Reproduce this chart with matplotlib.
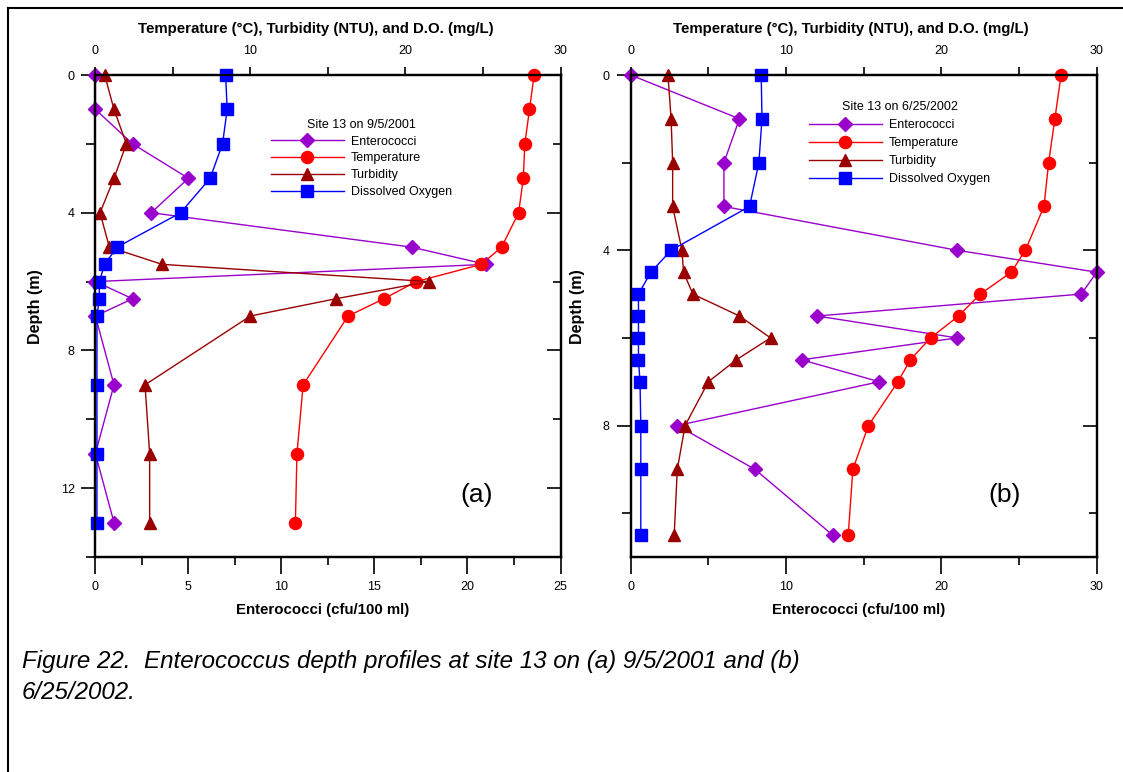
import matplotlib
matplotlib.use('Agg')
import matplotlib.pyplot as plt
from matplotlib.ticker import MultipleLocator
from matplotlib.lines import Line2D

plt.rcParams['font.family'] = ['Liberation Sans', 'DejaVu Sans']

# ---------------- data: panel (a) site 13 on 9/5/2001 ----------------
depth_a = [0, 1, 2, 3, 4, 5, 5.5, 6, 6.5, 7, 9, 11, 13]
entero_a = [0, 0, 2, 5, 3, 17, 21, 0, 2, 0, 1, 0, 1]
temp_a = [28.3, 28.0, 27.7, 27.6, 27.3, 26.2, 24.9, 20.7, 18.6, 16.3, 13.4, 13.0, 12.9]
turb_a = [0.6, 1.2, 2.0, 1.2, 0.3, 0.9, 4.3, 21.5, 15.5, 10.0, 3.2, 3.5, 3.5]
do_a = [8.4, 8.5, 8.2, 7.4, 5.5, 1.4, 0.6, 0.25, 0.25, 0.1, 0.1, 0.1, 0.1]

# ---------------- data: panel (b) site 13 on 6/25/2002 ----------------
depth_b = [0, 1, 2, 3, 4, 4.5, 5, 5.5, 6, 6.5, 7, 8, 9, 10.5]
entero_b = [0, 7, 6, 6, 21, 30, 29, 12, 21, 11, 16, 3, 8, 13]
temp_b = [27.7, 27.3, 26.9, 26.6, 25.4, 24.5, 22.5, 21.1, 19.3, 18.0, 17.2, 15.3, 14.3, 14.0]
turb_b = [2.4, 2.6, 2.7, 2.7, 3.3, 3.4, 4.0, 7.0, 9.0, 6.8, 5.0, 3.5, 3.0, 2.8]
do_b = [8.4, 8.45, 8.25, 7.65, 2.6, 1.3, 0.5, 0.5, 0.5, 0.5, 0.6, 0.65, 0.65, 0.65]

series_labels = ['Enterococci', 'Temperature', 'Turbidity', 'Dissolved Oxygen']
top_label = 'Temperature (\u00b0C), Turbidity (NTU), and D.O. (mg/L)'
bottom_label = 'Enterococci (cfu/100 ml)'
caption = ('Figure 22.  Enterococcus depth profiles at site 13 on (a) 9/5/2001 and (b)\n'
           '6/25/2002.')

C_ENT = '#9900CC'
C_TEMP = '#FF0000'
C_TURB = '#990000'
C_DO = '#0000FF'

W, H = 1123, 772
fig = plt.figure(figsize=(W / 100, H / 100), dpi=100)


def px_rect(x0, x1, ytop, ybot):
    return [x0 / W, 1 - ybot / H, (x1 - x0) / W, (ybot - ytop) / H]


def panel(rect, depth, ent, temp, turb, do, ent_max, ent_major, ymax,
          title, tag, tag_xy, leg_anchor, ylab_x, leg_spacing):
    ax = fig.add_axes(rect)
    ax2 = ax.twiny()
    lw = 1.0
    h_ent, = ax.plot(ent, depth, color=C_ENT, lw=lw, marker='D', ms=6.8,
                     mec=C_ENT, mfc=C_ENT, clip_on=False)
    h_temp, = ax2.plot(temp, depth, color=C_TEMP, lw=lw, marker='o', ms=8.7,
                       mec=C_TEMP, mfc=C_TEMP, clip_on=False)
    h_turb, = ax2.plot(turb, depth, color=C_TURB, lw=lw, marker='^', ms=9,
                       mec=C_TURB, mfc=C_TURB, clip_on=False)
    h_do, = ax2.plot(do, depth, color=C_DO, lw=lw, marker='s', ms=8.5,
                     mec=C_DO, mfc=C_DO, clip_on=False)

    ax.set_xlim(0, ent_max)
    ax2.set_xlim(0, 30)
    ax.set_ylim(ymax, 0)

    ax.xaxis.set_major_locator(MultipleLocator(ent_major))
    ax.xaxis.set_minor_locator(MultipleLocator(ent_major / 2))
    ax.yaxis.set_major_locator(MultipleLocator(4))
    ax.yaxis.set_minor_locator(MultipleLocator(2))
    ax2.xaxis.set_major_locator(MultipleLocator(10))
    ax2.xaxis.set_minor_locator(MultipleLocator(5))

    ax.tick_params(axis='x', which='major', direction='out', length=12, width=1.2,
                   labelsize=9, pad=5, top=False)
    ax.tick_params(axis='x', which='minor', direction='out', length=6, width=1.2, top=False)
    ax.tick_params(axis='y', which='major', direction='out', length=10, width=1.2,
                   labelsize=9, pad=5, right=False)
    ax.tick_params(axis='y', which='minor', direction='out', length=6.5, width=1.2, right=False)
    ax2.tick_params(axis='x', which='both', direction='out', length=6, width=1.2,
                    labelsize=9, pad=7)

    # right-hand inward ticks
    ax2.yaxis.set_visible(True)
    ax2.yaxis.tick_right()
    ax2.tick_params(axis='y', which='major', direction='in', length=10, width=1.2,
                    labelright=False, left=False, right=True)
    ax2.tick_params(axis='y', which='minor', direction='in', length=5.5, width=1.2,
                    left=False, right=True)

    for a in (ax, ax2):
        for s in a.spines.values():
            s.set_linewidth(1.6)

    ax.set_xlabel(bottom_label, fontsize=10.8, fontweight='bold')
    ax.xaxis.set_label_coords(0.488, -0.096)
    ax2.set_xlabel(top_label, fontsize=10.8, fontweight='bold')
    ax2.xaxis.set_label_coords(0.473, 1.087)
    ax.set_ylabel('Depth (m)', fontsize=11.5, fontweight='bold')
    ax.yaxis.set_label_coords(ylab_x, 0.52)

    ax.text(tag_xy[0], tag_xy[1], tag, transform=ax.transAxes, fontsize=19,
            ha='center', va='center')

    ax2.legend([h_ent, h_temp, h_turb, h_do], series_labels, title=title,
               loc='upper left', bbox_to_anchor=leg_anchor,
               bbox_transform=fig.transFigure, frameon=False, fontsize=9,
               title_fontsize=9, handlelength=5.8, handletextpad=0.6,
               labelspacing=leg_spacing, borderpad=0, borderaxespad=0, numpoints=1)
    return ax, ax2


panel(px_rect(95.4, 560.5, 75, 557), depth_a, entero_a, temp_a, turb_a, do_a,
      25, 5, 14, 'Site 13 on 9/5/2001', '(a)', (0.82, 0.129),
      (271 / W, 1 - 119 / H), -0.112, 0.38)
panel(px_rect(630.7, 1096.8, 75, 557), depth_b, entero_b, temp_b, turb_b, do_b,
      30, 10, 11, 'Site 13 on 6/25/2002', '(b)', (0.803, 0.129),
      (809 / W, 1 - 101 / H), -0.097, 0.48)

# frame lines (top and left)
fig.add_artist(Line2D([8 / W, 8 / W], [0, 1 - 8 / H], transform=fig.transFigure,
                      color='black', lw=1.5))
fig.add_artist(Line2D([8 / W, 1], [1 - 8 / H, 1 - 8 / H], transform=fig.transFigure,
                      color='black', lw=1.5))

fig.text(22 / W, 1 - 650 / H, caption, fontsize=17.4, style='italic', ha='left',
         va='top', linespacing=1.47)

fig.savefig('out.png', dpi=100)
